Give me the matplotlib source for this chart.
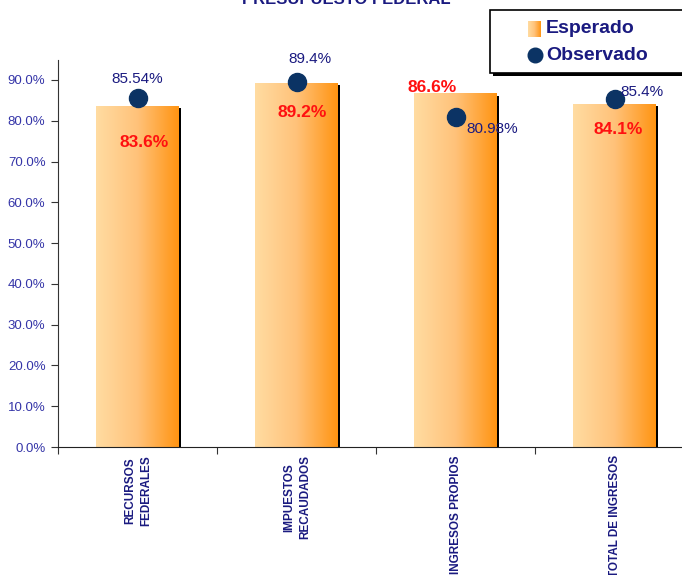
import matplotlib
matplotlib.use("Agg")
import matplotlib.pyplot as plt
import numpy as np
from matplotlib.colors import LinearSegmentedColormap
from matplotlib.lines import Line2D
from matplotlib.patches import Rectangle
import matplotlib.transforms as mtransforms

categories = ["RECURSOS\nFEDERALES", "IMPUESTOS\nRECAUDADOS", "INGRESOS PROPIOS", "TOTAL DE INGRESOS"]
esperado = [83.6, 89.2, 86.6, 84.1]
observado = [85.54, 89.4, 80.98, 85.4]
esperado_labels = ["83.6%", "89.2%", "86.6%", "84.1%"]
observado_labels = ["85.54%", "89.4%", "80.98%", "85.4%"]
yticks = [0, 10, 20, 30, 40, 50, 60, 70, 80, 90]

plt.rcParams['font.family'] = ['Liberation Sans', 'DejaVu Sans']
navy = "#1a1a80"
dot = "#0b3364"

W, H = 682, 575
fig = plt.figure(figsize=(W/100, H/100), dpi=100)
ax = fig.add_axes([58/W, 128/H, 4*159/W, 387/H])
x = np.arange(len(categories))

cmap = LinearSegmentedColormap.from_list("g", ["#ffdca2", "#ffc27a", "#ff9412"])
grad = np.linspace(0, 1, 256).reshape(1, -1)
bw = 0.52
bars = ax.bar(x, esperado, width=bw, color="none", zorder=2)
for b in bars:
    x0, w, h = b.get_x(), b.get_width(), b.get_height()
    off = mtransforms.offset_copy(ax.transData, fig=fig, x=2, y=-2, units='dots')
    ax.add_patch(Rectangle((x0, 0), w, h, transform=off, facecolor="black", edgecolor="none", zorder=1))
    ax.imshow(grad, cmap=cmap, extent=[x0, x0 + w, 0, h], aspect="auto", zorder=2, interpolation="bilinear")
ax.set_xlim(-0.5, 3.5)
ax.set_ylim(0, 94.9)

ax.plot(x, observado, linestyle="none", marker="o", markersize=13, color=dot, zorder=4, clip_on=False)

obs_off = [(0, 14, "center"), (10, 17, "center"), (8, -9, "left"), (4, 5, "left")]
for xi, yi, lab, (dx, dy, ha) in zip(x, observado, observado_labels, obs_off):
    ax.annotate(lab, (xi, yi), xytext=(dx, dy), textcoords="offset points", ha=ha, va="center",
                color=navy, fontsize=11, zorder=5, annotation_clip=False)
exp_off = [(5, -26.5), (4, -21), (-16.5, 4.5), (3, -18.5)]
for xi, yi, lab, (dx, dy) in zip(x, esperado, esperado_labels, exp_off):
    ax.annotate(lab, (xi, yi), xytext=(dx, dy), textcoords="offset points", ha="center", va="center",
                color="#ff1010", fontsize=12.5, fontweight="bold", zorder=5, annotation_clip=False)

ax.set_yticks(yticks)
ax.set_yticklabels([f"{v:.1f}%" for v in yticks], color="#3535a8", fontsize=9.5)
ax.set_xticks([-0.5, 0.5, 1.5, 2.5, 3.5])
ax.set_xticklabels([])
ax.tick_params(axis="x", length=5, direction="out", color="#333333")
ax.tick_params(axis="y", length=5, direction="out", color="#333333", pad=4)
for xi, lab in zip(x, categories):
    ax.text(xi + 0.005, -2.0, lab, rotation=90, ha="center", va="top", fontsize=8.5, fontweight="bold",
            color=navy, linespacing=1.4, multialignment="center", clip_on=False)

for s in ["top", "right"]:
    ax.spines[s].set_visible(False)
ax.spines["left"].set_color("#333333")
ax.spines["bottom"].set_color("#222222")

fig.text(346/W, 1 + 1/H, "PRESUPUESTO FEDERAL", ha="center", va="center", fontsize=12,
         fontweight="bold", color=navy)

# manual legend box
def fx(px):
    return px / W
def fy(py):
    return 1 - py / H
fig.patches.append(Rectangle((fx(493), fy(76)), fx(200), 63/H, transform=fig.transFigure,
                             facecolor="black", edgecolor="none", zorder=8))
fig.patches.append(Rectangle((fx(490), fy(73)), fx(200), 63/H, transform=fig.transFigure,
                             facecolor="white", edgecolor="black", linewidth=1.2, zorder=9))
legend_labels = ["Esperado", "Observado"]
lg = fig.add_axes([fx(528), fy(37), 13/W, 16/H], zorder=10)
lg.imshow(grad, cmap=cmap, aspect="auto", extent=[0, 1, 0, 1], interpolation="bilinear")
lg.axis("off")
fig.lines.append(Line2D([fx(535)], [fy(55)], marker="o", markersize=10.5, color=dot,
                        transform=fig.transFigure, zorder=10))
fig.text(fx(546), fy(28.5), legend_labels[0], ha="left", va="center", fontsize=14, fontweight="bold",
         color=navy, zorder=11)
fig.text(fx(546), fy(55), legend_labels[1], ha="left", va="center", fontsize=14, fontweight="bold",
         color=navy, zorder=11)

fig.savefig("out.png", dpi=100)
